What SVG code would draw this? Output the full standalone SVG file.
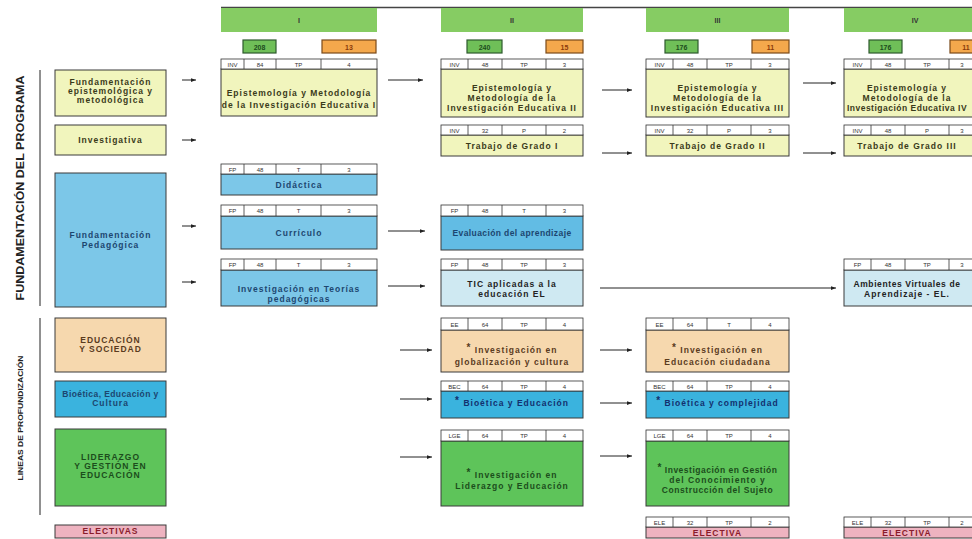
<svg xmlns="http://www.w3.org/2000/svg" width="972" height="539" viewBox="0 0 972 539">
<style>
text{font-family:"Liberation Sans",Arial,sans-serif}
.t{font-size:8.5px;font-weight:bold;letter-spacing:1px;text-anchor:middle}
.c{font-size:6px;fill:#333;text-anchor:middle}
.h{fill:#fff;stroke:#333;stroke-width:.8}
.ln{stroke:#333;stroke-width:.8}
.bx{stroke:#3a3a3a;stroke-width:1}
.yel{fill:#f1f5bd}.blu{fill:#7cc7e8}.blu2{fill:#62bce4}.lbl{fill:#cfe9f2}.tan{fill:#f6d8ae}.bec{fill:#3ab3de}.grn{fill:#5ec45a}.pnk{fill:#eeb3c0}
.ty{fill:#3a3a1a}.tb{fill:#1c4670}.tt{fill:#5a3b1e}.tg{fill:#1c4d1c}.tp{fill:#8a1c2c}
.bar{fill:#86cc63}
.ng{fill:#6fbf58;stroke:#2d5a2d;stroke-width:1.2}
.no{fill:#f4a84c;stroke:#7a4a1a;stroke-width:1.2}
.nt{font-size:7px;font-weight:bold;text-anchor:middle}
.conn line{stroke:#222;stroke-width:1;marker-end:url(#ah)}
.vl{font-size:10px;font-weight:bold;fill:#222;text-anchor:middle}
</style>
<defs>
<marker id="ah" viewBox="0 0 8 6" refX="8" refY="3" markerWidth="5" markerHeight="4" orient="auto" markerUnits="userSpaceOnUse">
<path d="M0,0 L8,3 L0,6 z" fill="#222"/>
</marker>
</defs>
<rect width="972" height="539" fill="#fff"/>

<!-- top line and semester headers -->
<line x1="221" y1="7.5" x2="972" y2="7.5" stroke="#444" stroke-width="1.5"/>
<g id="sem-I"><rect class="bar" x="221" y="8" width="156" height="24"/><text class="nt" x="299" y="23" fill="#333">I</text>
<rect class="ng" x="243" y="40" width="33" height="13"/><text class="nt" x="259.5" y="49.5" fill="#1d4d1d">208</text>
<rect class="no" x="322" y="40" width="54" height="13"/><text class="nt" x="349" y="49.5" fill="#8a3a0a">13</text></g>
<g id="sem-II"><rect class="bar" x="441" y="8" width="142" height="24"/><text class="nt" x="512" y="23" fill="#333">II</text>
<rect class="ng" x="467" y="40" width="35" height="13"/><text class="nt" x="484.5" y="49.5" fill="#1d4d1d">240</text>
<rect class="no" x="546" y="40" width="37" height="13"/><text class="nt" x="564.5" y="49.5" fill="#8a3a0a">15</text></g>
<g id="sem-III"><rect class="bar" x="646" y="8" width="143" height="24"/><text class="nt" x="717.5" y="23" fill="#333">III</text>
<rect class="ng" x="665" y="40" width="33" height="13"/><text class="nt" x="681.5" y="49.5" fill="#1d4d1d">176</text>
<rect class="no" x="752" y="40" width="37" height="13"/><text class="nt" x="770.5" y="49.5" fill="#8a3a0a">11</text></g>
<g id="sem-IV"><rect class="bar" x="844" y="8" width="142" height="24"/><text class="nt" x="915" y="23" fill="#333">IV</text>
<rect class="ng" x="869" y="40" width="33" height="13"/><text class="nt" x="885.5" y="49.5" fill="#1d4d1d">176</text>
<rect class="no" x="950" y="40" width="37" height="13"/><text class="nt" x="966" y="49.5" fill="#8a3a0a">11</text></g>

<!-- side labels -->
<g id="lbl-fund"><line x1="40" y1="70" x2="40" y2="306" stroke="#222" stroke-width="1"/>
<text class="vl" transform="translate(24,188) rotate(-90)" textLength="225" lengthAdjust="spacingAndGlyphs">FUNDAMENTACIÓN DEL PROGRAMA</text></g>
<g id="lbl-lineas"><line x1="40" y1="318" x2="40" y2="515" stroke="#222" stroke-width="1"/>
<text class="vl" style="font-size:8px" transform="translate(23,418) rotate(-90)" textLength="125" lengthAdjust="spacingAndGlyphs">LINEAS  DE  PROFUNDIZACIÓN</text></g>

<!-- left column -->
<g id="f-epist"><rect class="bx yel" x="55" y="70" width="111" height="46"/>
<text class="t ty" x="110.5" y="85">Fundamentación</text><text class="t ty" x="110.5" y="94">epistemológica y</text><text class="t ty" x="110.5" y="103">metodológica</text></g>
<g id="f-invest"><rect class="bx yel" x="55" y="125" width="111" height="30"/><text class="t ty" x="110.5" y="143">Investigativa</text></g>
<g id="f-ped"><rect class="bx blu" x="55" y="173" width="111" height="134"/>
<text class="t tb" x="110.5" y="238">Fundamentación</text><text class="t tb" x="110.5" y="248">Pedagógica</text></g>
<g id="l-eys"><rect class="bx tan" x="55" y="318" width="111" height="54"/>
<text class="t tt" x="110.5" y="343">EDUCACIÓN</text><text class="t tt" x="110.5" y="352">Y SOCIEDAD</text></g>
<g id="l-bec"><rect class="bx bec" x="55" y="381" width="111" height="36"/>
<text class="t tb" x="110.5" y="397" style="letter-spacing:.4px">Bioética, Educación y</text><text class="t tb" x="110.5" y="406">Cultura</text></g>
<g id="l-lge"><rect class="bx grn" x="55" y="429" width="111" height="77"/>
<text class="t tg" x="110.5" y="460">LIDERAZGO</text><text class="t tg" x="110.5" y="469">Y GESTIÓN EN</text><text class="t tg" x="110.5" y="478">EDUCACIÓN</text></g>
<g id="l-ele"><rect class="bx pnk" x="55" y="525" width="111" height="13"/><text class="t tp" x="110.5" y="534">ELECTIVAS</text></g>

<!-- Column I -->
<g id="i-epist"><rect class="bx yel" x="221" y="69" width="156" height="47"/><rect class="h" x="221" y="59" width="156" height="10"/>
<path class="ln" d="M244,59V69M276,59V69M321,59V69"/>
<text class="c" x="232.5" y="66.5">INV</text><text class="c" x="260" y="66.5">84</text><text class="c" x="298.5" y="66.5">TP</text><text class="c" x="349" y="66.5">4</text>
<text class="t ty" x="299" y="96">Epistemología y Metodología</text><text class="t ty" x="299" y="108">de la Investigación Educativa I</text></g>
<g id="i-didac"><rect class="bx blu" x="221" y="174" width="156" height="21"/><rect class="h" x="221" y="164" width="156" height="10"/>
<path class="ln" d="M244,164V174M276,164V174M321,164V174"/>
<text class="c" x="232.5" y="171.5">FP</text><text class="c" x="260" y="171.5">48</text><text class="c" x="298.5" y="171.5">T</text><text class="c" x="349" y="171.5">3</text>
<text class="t tb" x="299" y="188">Didáctica</text></g>
<g id="i-curr"><rect class="bx blu" x="221" y="216" width="156" height="33"/><rect class="h" x="221" y="205" width="156" height="11"/>
<path class="ln" d="M244,205V216M276,205V216M321,205V216"/>
<text class="c" x="232.5" y="213">FP</text><text class="c" x="260" y="213">48</text><text class="c" x="298.5" y="213">T</text><text class="c" x="349" y="213">3</text>
<text class="t tb" x="299" y="236">Currículo</text></g>
<g id="i-teor"><rect class="bx blu" x="221" y="270" width="156" height="36"/><rect class="h" x="221" y="259" width="156" height="11"/>
<path class="ln" d="M244,259V270M276,259V270M321,259V270"/>
<text class="c" x="232.5" y="267">FP</text><text class="c" x="260" y="267">48</text><text class="c" x="298.5" y="267">T</text><text class="c" x="349" y="267">3</text>
<text class="t tb" x="299" y="292">Investigación en Teorías</text><text class="t tb" x="299" y="302">pedagógicas</text></g>

<!-- Column II -->
<g id="ii-epist"><rect class="bx yel" x="441" y="69" width="142" height="48"/><rect class="h" x="441" y="59" width="142" height="10"/>
<path class="ln" d="M468,59V69M502,59V69M546,59V69"/>
<text class="c" x="454.5" y="66.5">INV</text><text class="c" x="485" y="66.5">48</text><text class="c" x="524" y="66.5">TP</text><text class="c" x="564.5" y="66.5">3</text>
<text class="t ty" x="512" y="91">Epistemología y</text><text class="t ty" x="512" y="101">Metodología de la</text><text class="t ty" x="512" y="111">Investigación Educativa II</text></g>
<g id="ii-tg"><rect class="bx yel" x="441" y="135" width="142" height="21"/><rect class="h" x="441" y="125" width="142" height="10"/>
<path class="ln" d="M468,125V135M502,125V135M546,125V135"/>
<text class="c" x="454.5" y="132.5">INV</text><text class="c" x="485" y="132.5">32</text><text class="c" x="524" y="132.5">P</text><text class="c" x="564.5" y="132.5">2</text>
<text class="t ty" x="512" y="149">Trabajo de Grado I</text></g>
<g id="ii-eval"><rect class="bx blu2" x="441" y="216" width="142" height="34"/><rect class="h" x="441" y="205" width="142" height="11"/>
<path class="ln" d="M468,205V216M502,205V216M546,205V216"/>
<text class="c" x="454.5" y="213">FP</text><text class="c" x="485" y="213">48</text><text class="c" x="524" y="213">T</text><text class="c" x="564.5" y="213">3</text>
<text class="t tb" x="512" y="236" style="letter-spacing:.4px">Evaluación del aprendizaje</text></g>
<g id="ii-tic"><rect class="bx lbl" x="441" y="270" width="142" height="36"/><rect class="h" x="441" y="259" width="142" height="11"/>
<path class="ln" d="M468,259V270M502,259V270M546,259V270"/>
<text class="c" x="454.5" y="267">FP</text><text class="c" x="485" y="267">48</text><text class="c" x="524" y="267">TP</text><text class="c" x="564.5" y="267">3</text>
<text class="t" x="512" y="287" fill="#222">TIC aplicadas a la</text><text class="t" x="512" y="297" fill="#222">educación  EL</text></g>
<g id="ii-ee"><rect class="bx tan" x="441" y="330" width="142" height="42"/><rect class="h" x="441" y="318" width="142" height="12"/>
<path class="ln" d="M468,318V330M502,318V330M546,318V330"/>
<text class="c" x="454.5" y="326.5">EE</text><text class="c" x="485" y="326.5">64</text><text class="c" x="524" y="326.5">TP</text><text class="c" x="564.5" y="326.5">4</text>
<text class="t tt" x="512" y="353"><tspan font-size="10" dy="-2">*</tspan><tspan dy="2"> Investigación en</tspan></text><text class="t tt" x="512" y="365">globalización y cultura</text></g>
<g id="ii-bec"><rect class="bx bec" x="441" y="391" width="142" height="27"/><rect class="h" x="441" y="381" width="142" height="10"/>
<path class="ln" d="M468,381V391M502,381V391M546,381V391"/>
<text class="c" x="454.5" y="388.5">BEC</text><text class="c" x="485" y="388.5">64</text><text class="c" x="524" y="388.5">TP</text><text class="c" x="564.5" y="388.5">4</text>
<text class="t" x="512" y="406" fill="#13306e"><tspan font-size="10" dy="-2">*</tspan><tspan dy="2"> Bioética y Educación</tspan></text></g>
<g id="ii-lge"><rect class="bx grn" x="441" y="441" width="142" height="65"/><rect class="h" x="441" y="430" width="142" height="11"/>
<path class="ln" d="M468,430V441M502,430V441M546,430V441"/>
<text class="c" x="454.5" y="438">LGE</text><text class="c" x="485" y="438">64</text><text class="c" x="524" y="438">TP</text><text class="c" x="564.5" y="438">4</text>
<text class="t tg" x="512" y="478"><tspan font-size="10" dy="-2">*</tspan><tspan dy="2"> Investigación en</tspan></text><text class="t tg" x="512" y="489">Liderazgo y Educación</text></g>

<!-- Column III -->
<g id="iii-epist"><rect class="bx yel" x="646" y="69" width="143" height="48"/><rect class="h" x="646" y="59" width="143" height="10"/>
<path class="ln" d="M673,59V69M707,59V69M751,59V69"/>
<text class="c" x="659.5" y="66.5">INV</text><text class="c" x="690" y="66.5">48</text><text class="c" x="729" y="66.5">TP</text><text class="c" x="770" y="66.5">3</text>
<text class="t ty" x="717.5" y="91">Epistemología y</text><text class="t ty" x="717.5" y="101">Metodología de la</text><text class="t ty" x="717.5" y="111">Investigación Educativa III</text></g>
<g id="iii-tg"><rect class="bx yel" x="646" y="135" width="143" height="21"/><rect class="h" x="646" y="125" width="143" height="10"/>
<path class="ln" d="M673,125V135M707,125V135M751,125V135"/>
<text class="c" x="659.5" y="132.5">INV</text><text class="c" x="690" y="132.5">32</text><text class="c" x="729" y="132.5">P</text><text class="c" x="770" y="132.5">3</text>
<text class="t ty" x="717.5" y="149">Trabajo de Grado II</text></g>
<g id="iii-ee"><rect class="bx tan" x="646" y="330" width="143" height="42"/><rect class="h" x="646" y="318" width="143" height="12"/>
<path class="ln" d="M673,318V330M707,318V330M751,318V330"/>
<text class="c" x="659.5" y="326.5">EE</text><text class="c" x="690" y="326.5">64</text><text class="c" x="729" y="326.5">T</text><text class="c" x="770" y="326.5">4</text>
<text class="t tt" x="717.5" y="353"><tspan font-size="10" dy="-2">*</tspan><tspan dy="2"> Investigación en</tspan></text><text class="t tt" x="717.5" y="365">Educación ciudadana</text></g>
<g id="iii-bec"><rect class="bx bec" x="646" y="391" width="143" height="27"/><rect class="h" x="646" y="381" width="143" height="10"/>
<path class="ln" d="M673,381V391M707,381V391M751,381V391"/>
<text class="c" x="659.5" y="388.5">BEC</text><text class="c" x="690" y="388.5">64</text><text class="c" x="729" y="388.5">TP</text><text class="c" x="770" y="388.5">4</text>
<text class="t" x="717.5" y="406" fill="#13306e"><tspan font-size="10" dy="-2">*</tspan><tspan dy="2"> Bioética y complejidad</tspan></text></g>
<g id="iii-lge"><rect class="bx grn" x="646" y="441" width="143" height="65"/><rect class="h" x="646" y="430" width="143" height="11"/>
<path class="ln" d="M673,430V441M707,430V441M751,430V441"/>
<text class="c" x="659.5" y="438">LGE</text><text class="c" x="690" y="438">64</text><text class="c" x="729" y="438">TP</text><text class="c" x="770" y="438">4</text>
<text class="t tg" x="717.5" y="473" style="letter-spacing:.5px"><tspan font-size="10" dy="-2">*</tspan><tspan dy="2"> Investigación en Gestión</tspan></text><text class="t tg" x="717.5" y="483">del Conocimiento y</text><text class="t tg" x="717.5" y="493" style="letter-spacing:.6px">Construcción del Sujeto</text></g>
<g id="iii-ele"><rect class="bx pnk" x="646" y="527" width="143" height="11"/><rect class="h" x="646" y="517" width="143" height="10"/>
<path class="ln" d="M673,517V527M707,517V527M751,517V527"/>
<text class="c" x="659.5" y="524.5">ELE</text><text class="c" x="690" y="524.5">32</text><text class="c" x="729" y="524.5">TP</text><text class="c" x="770" y="524.5">2</text>
<text class="t tp" x="717.5" y="536">ELECTIVA</text></g>

<!-- Column IV -->
<g id="iv-epist"><rect class="bx yel" x="844" y="69" width="142" height="48"/><rect class="h" x="844" y="59" width="142" height="10"/>
<path class="ln" d="M871,59V69M905,59V69M949,59V69"/>
<text class="c" x="857.5" y="66.5">INV</text><text class="c" x="888" y="66.5">48</text><text class="c" x="927" y="66.5">TP</text><text class="c" x="962" y="66.5">3</text>
<text class="t ty" x="907" y="91">Epistemología y</text><text class="t ty" x="907" y="101">Metodología de la</text><text class="t ty" x="907" y="111" style="letter-spacing:.5px">Investigación Educativa IV</text></g>
<g id="iv-tg"><rect class="bx yel" x="844" y="135" width="142" height="21"/><rect class="h" x="844" y="125" width="142" height="10"/>
<path class="ln" d="M871,125V135M905,125V135M949,125V135"/>
<text class="c" x="857.5" y="132.5">INV</text><text class="c" x="888" y="132.5">48</text><text class="c" x="927" y="132.5">P</text><text class="c" x="962" y="132.5">3</text>
<text class="t ty" x="907" y="149">Trabajo de Grado III</text></g>
<g id="iv-ava"><rect class="bx lbl" x="844" y="270" width="142" height="36"/><rect class="h" x="844" y="259" width="142" height="11"/>
<path class="ln" d="M871,259V270M905,259V270M949,259V270"/>
<text class="c" x="857.5" y="267">FP</text><text class="c" x="888" y="267">48</text><text class="c" x="927" y="267">TP</text><text class="c" x="962" y="267">3</text>
<text class="t" x="907" y="287" fill="#222" style="letter-spacing:.6px">Ambientes Virtuales de</text><text class="t" x="907" y="297" fill="#222">Aprendizaje - EL.</text></g>
<g id="iv-ele"><rect class="bx pnk" x="844" y="527" width="142" height="11"/><rect class="h" x="844" y="517" width="142" height="10"/>
<path class="ln" d="M871,517V527M905,517V527M949,517V527"/>
<text class="c" x="857.5" y="524.5">ELE</text><text class="c" x="888" y="524.5">32</text><text class="c" x="927" y="524.5">TP</text><text class="c" x="962" y="524.5">2</text>
<text class="t tp" x="907" y="536">ELECTIVA</text></g>

<!-- connectors -->
<g id="connectors" class="conn">
<line x1="182" y1="80" x2="196" y2="80"/>
<line x1="182" y1="140" x2="196" y2="140"/>
<line x1="182" y1="226" x2="196" y2="226"/>
<line x1="182" y1="282" x2="196" y2="282"/>
<line x1="388" y1="80" x2="423" y2="80"/>
<line x1="388" y1="231" x2="425" y2="231"/>
<line x1="388" y1="286" x2="425" y2="286"/>
<line x1="602" y1="90" x2="632" y2="90"/>
<line x1="602" y1="153" x2="632" y2="153"/>
<line x1="803" y1="83" x2="836" y2="83"/>
<line x1="803" y1="153" x2="836" y2="153"/>
<line x1="600" y1="288" x2="836" y2="288"/>
<line x1="400" y1="350" x2="432" y2="350"/>
<line x1="400" y1="399" x2="432" y2="399"/>
<line x1="400" y1="457" x2="432" y2="457"/>
<line x1="600" y1="350" x2="632" y2="350"/>
<line x1="600" y1="403" x2="632" y2="403"/>
<line x1="600" y1="456" x2="632" y2="456"/>
</g>
</svg>
